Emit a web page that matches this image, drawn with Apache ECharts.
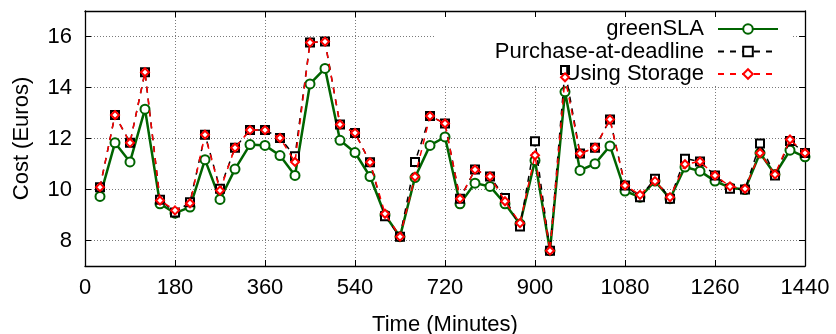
<!DOCTYPE html>
<html>
<head>
<meta charset="utf-8">
<script src="https://cdn.jsdelivr.net/npm/echarts@6/dist/echarts.min.js"></script>
<style>
html,body{margin:0;padding:0;background:#fff;}
#chart{width:836px;height:334px;}
</style>
</head>
<body>
<div id="chart"></div>
<script>
const times = [30,60,90,120,150,180,210,240,270,300,330,360,390,420,450,480,510,540,570,600,630,660,690,720,750,780,810,840,870,900,930,960,990,1020,1050,1080,1110,1140,1170,1200,1230,1260,1290,1320,1350,1380,1410,1440];
const greenSLA = [9.73,11.83,11.08,13.15,9.44,9.07,9.31,11.17,9.61,10.80,11.76,11.73,11.33,10.55,14.14,14.75,11.93,11.45,10.51,9.0,8.15,10.47,11.73,12.06,9.44,10.25,10.12,9.44,8.65,11.14,7.60,13.83,10.75,11.01,11.71,9.94,9.70,10.33,9.64,10.88,10.72,10.33,10.07,10.0,11.43,10.59,11.54,11.28];
const purchaseAtDeadline = [10.09,12.92,11.83,14.6,9.6,9.1,9.5,12.15,10.03,11.64,12.33,12.33,12.02,11.3,15.76,15.80,12.55,12.22,11.07,8.95,8.15,11.08,12.88,12.59,9.64,10.78,10.51,9.67,8.55,11.89,7.60,14.69,11.41,11.64,12.75,10.16,9.70,10.42,9.64,11.21,11.1,10.55,10.03,10.0,11.80,10.55,11.9,11.43];
const usingStorage = [10.09,12.92,11.83,14.6,9.57,9.18,9.46,12.15,9.96,11.64,12.33,12.33,12.02,11.08,15.76,15.80,12.55,12.22,11.07,9.05,8.15,10.5,12.88,12.59,9.64,10.78,10.51,9.54,8.68,11.34,7.60,14.40,11.41,11.64,12.75,10.16,9.79,10.33,9.70,10.99,11.1,10.55,10.12,10.03,11.43,10.59,11.96,11.43];
const seriesNames = ['greenSLA','Purchase-at-deadline','Using Storage'];
const xTicks = [0,180,360,540,720,900,1080,1260,1440];
const yTicks = [8,10,12,14,16];

const FONT = 'Liberation Sans';
const pair = arr => times.map((t,i)=>[t,arr[i]]);
const chart = echarts.init(document.getElementById('chart'), null, {renderer:'canvas'});
const dotted = {show:true,lineStyle:{color:'#7a7a7a',type:[1,2],width:1}};
const axisLineStyle = {show:true,onZero:false,lineStyle:{color:'#000',width:1.3}};
const tickStyle = (vals)=>({show:true,inside:true,length:6,customValues:vals,lineStyle:{color:'#000',width:1}});
chart.setOption({
  backgroundColor:'#fff',
  animation:false,
  grid:{left:85,right:31,top:11,bottom:68,outerBoundsMode:'none',containLabel:false},
  textStyle:{fontFamily:FONT},
  graphic:[{
    type:'rect', z:1, silent:true,
    shape:{x:435,y:17,width:358,height:69},
    style:{fill:'#fff'}
  }],
  legend:{
    data:seriesNames,
    orient:'vertical',
    align:'right',
    right:57, top:18, padding:0,
    itemWidth:60, itemHeight:12, itemGap:0.5,
    textStyle:{fontFamily:FONT,fontSize:22,color:'#000',lineHeight:22,padding:[0,9,0,0]},
    z:5
  },
  xAxis:[{
    type:'value', min:0, max:1440,
    name:'Time (Minutes)', nameLocation:'middle', nameGap:48,
    nameTextStyle:{fontFamily:FONT,fontSize:22,color:'#000'},
    axisLine:axisLineStyle,
    axisTick:tickStyle(xTicks),
    axisLabel:{fontFamily:FONT,fontSize:22,color:'#000',margin:11,customValues:xTicks,
      formatter:v=>String(v)},
    splitLine:dotted
  },{
    type:'value', min:0, max:1440, position:'top',
    axisLine:axisLineStyle,
    axisTick:tickStyle(xTicks),
    axisLabel:{show:false}, splitLine:{show:false}
  }],
  yAxis:[{
    type:'value', min:7, max:17,
    name:'Cost (Euros)', nameLocation:'middle', nameGap:52,
    nameTextStyle:{fontFamily:FONT,fontSize:22,color:'#000'},
    axisLine:axisLineStyle,
    axisTick:tickStyle(yTicks),
    axisLabel:{fontFamily:FONT,fontSize:22,color:'#000',margin:13,customValues:yTicks,
      formatter:v=>String(v)},
    splitLine:dotted
  },{
    type:'value', min:7, max:17, position:'right',
    axisLine:axisLineStyle,
    axisTick:tickStyle(yTicks),
    axisLabel:{show:false}, splitLine:{show:false}
  }],
  series:[{
    name:seriesNames[0], type:'line', data:pair(greenSLA), z:3,
    symbol:'emptyCircle', symbolSize:9,
    lineStyle:{color:'#006400',width:2.5},
    itemStyle:{color:'#006400',borderColor:'#006400',borderWidth:2}
  },{
    name:seriesNames[1], type:'line', data:pair(purchaseAtDeadline), z:4,
    symbol:'emptyRect', symbolSize:8,
    lineStyle:{color:'#000',width:1.5,type:[6,6]},
    itemStyle:{color:'#000',borderColor:'#000',borderWidth:1.5}
  },{
    name:seriesNames[2], type:'line', data:pair(usingStorage), z:5,
    symbol:'emptyDiamond', symbolSize:8,
    lineStyle:{color:'#ff0000',width:1.5,type:[6,6]},
    itemStyle:{color:'#ff0000',borderColor:'#ff0000',borderWidth:1.5}
  }]
});
</script>
</body>
</html>
